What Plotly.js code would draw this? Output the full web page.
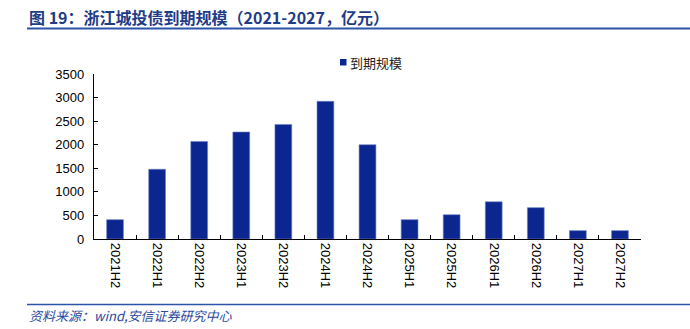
<!DOCTYPE html>
<html>
<head>
<meta charset="utf-8">
<script src="https://cdn.plot.ly/plotly-3.0.1.min.js"></script>
<style>
html,body{margin:0;padding:0;background:#fff;}
#chart{width:690px;height:329px;}
</style>
</head>
<body>
<div id="chart"></div>
<script>
const categories = ["2021H2","2022H1","2022H2","2023H1","2023H2","2024H1","2024H2","2025H1","2025H2","2026H1","2026H2","2027H1","2027H2"];
const maturityValues = [410, 1480, 2070, 2270, 2430, 2920, 2000, 410, 515, 790, 665, 178, 178];
const seriesName = "到期规模";
const yTicks = [0, 500, 1000, 1500, 2000, 2500, 3000, 3500];
const titleText = "图 19：浙江城投债到期规模（2021-2027，亿元）";
const sourceText = "资料来源：wind,安信证券研究中心";

const blue = "#0c2690";
const lineBlue = "#2b53a7";

const trace = {
  type: "bar",
  x: categories,
  y: maturityValues,
  name: seriesName,
  marker: {color: blue, line: {color: "#6f86c6", width: 0.6}},
  hoverinfo: "x+y",
  showlegend: false
};

const plotW = 690 - 94 - 49, plotH = 329 - 74 - 90;
function px2x(px){ return (px - 94) / plotW; }
function py2y(py){ return (329 - 90 - py) / plotH; }

const layout = {
  width: 690,
  height: 329,
  margin: {l: 94, r: 49, t: 74, b: 90},
  paper_bgcolor: "#fff",
  plot_bgcolor: "#fff",
  bargap: 0.6,
  showlegend: false,
  font: {family: "Liberation Sans, Arial, sans-serif", color: "#000"},
  xaxis: {
    type: "category",
    showline: true, linecolor: "#000", linewidth: 1.2,
    ticks: "inside", ticklen: 4, tickcolor: "#000", tickson: "boundaries",
    tickangle: 90,
    tickfont: {family: "Liberation Sans, Arial, sans-serif", size: 13, color: "#000"},
    showgrid: false, zeroline: false
  },
  yaxis: {
    range: [0, 3500],
    tickvals: yTicks,
    ticktext: yTicks.map(String),
    showline: true, linecolor: "#000", linewidth: 1.2,
    ticks: "inside", ticklen: 4, tickcolor: "#000",
    tickfont: {family: "Liberation Sans, Arial, sans-serif", size: 13, color: "#000"},
    showgrid: false, zeroline: false,
    ticklabelstandoff: 6
  },
  annotations: [
    {
      text: "<b>" + titleText + "</b>",
      xref: "paper", yref: "paper", x: px2x(27), y: py2y(17),
      xanchor: "left", yanchor: "middle",
      showarrow: false,
      font: {family: "Noto Sans CJK SC, sans-serif", size: 16, color: "#1f3c88"}
    },
    {
      text: "<i>" + sourceText + "</i>",
      xref: "paper", yref: "paper", x: px2x(27), y: py2y(315),
      xanchor: "left", yanchor: "middle",
      showarrow: false,
      font: {family: "Noto Sans CJK SC, sans-serif", size: 13, color: "#2b4aa0"}
    },
    {
      text: seriesName,
      xref: "paper", yref: "paper", x: px2x(348), y: py2y(62),
      xanchor: "left", yanchor: "middle",
      showarrow: false,
      font: {family: "Noto Sans CJK SC, sans-serif", size: 13, color: "#222"}
    }
  ],
  shapes: [
    {type: "line", xref: "paper", yref: "paper", x0: px2x(27), x1: px2x(690), y0: py2y(28.5), y1: py2y(28.5),
     line: {color: lineBlue, width: 2}},
    {type: "line", xref: "paper", yref: "paper", x0: px2x(27), x1: px2x(690), y0: py2y(304.5), y1: py2y(304.5),
     line: {color: lineBlue, width: 1.5}},
    {type: "rect", xref: "paper", yref: "paper", x0: px2x(340), x1: px2x(346.5), y0: py2y(59), y1: py2y(65.5),
     fillcolor: blue, line: {width: 0}}
  ]
};

Plotly.newPlot("chart", [trace], layout, {displayModeBar: false, staticPlot: true});
</script>
</body>
</html>
